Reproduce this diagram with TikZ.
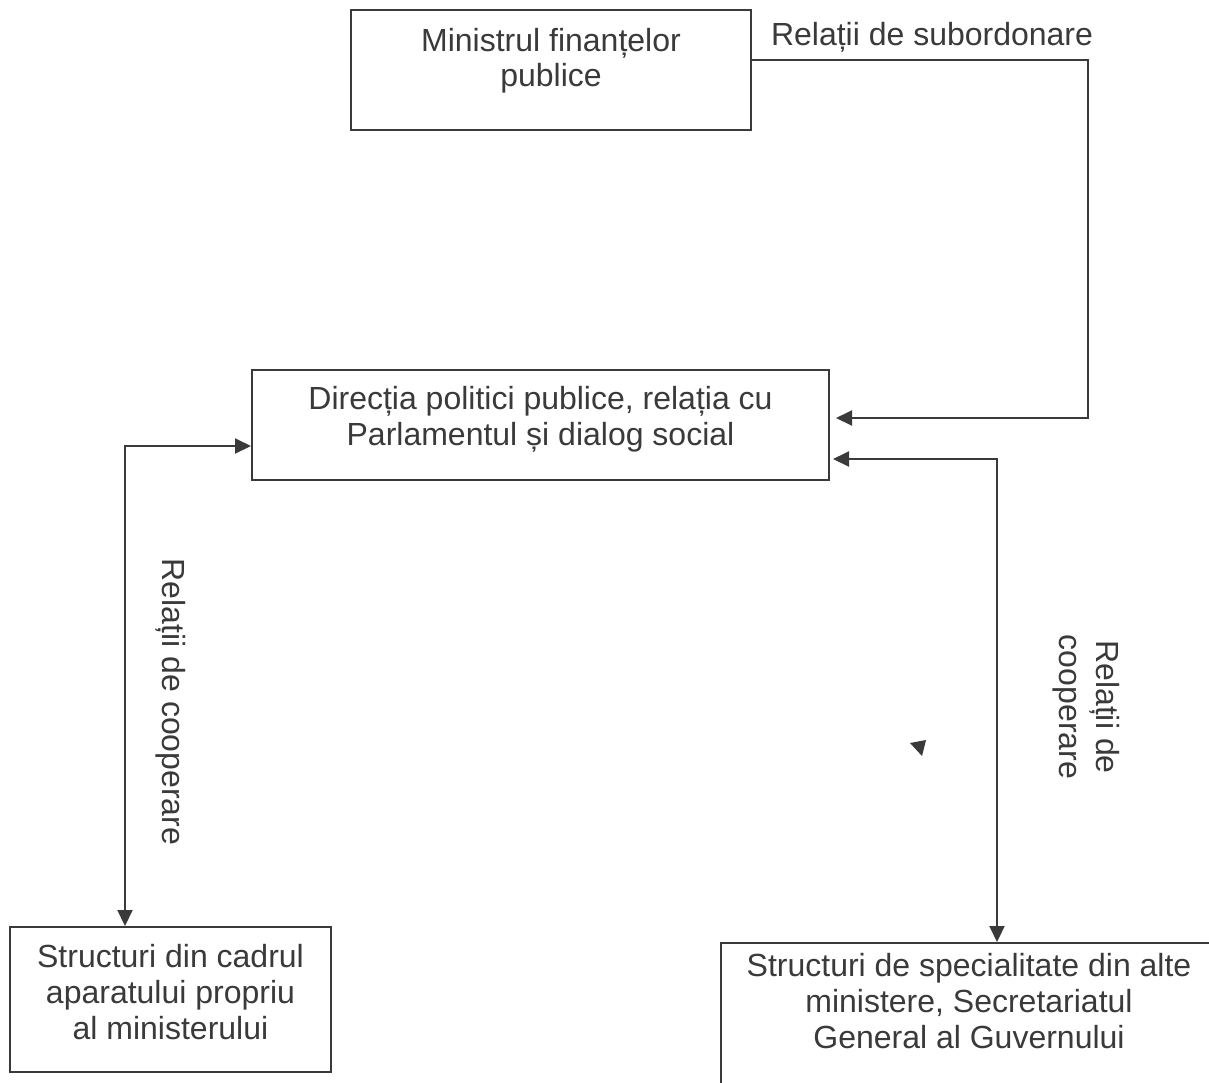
\documentclass[tikz,border=0pt]{standalone}
\usepackage{fontspec}
\setmainfont{Liberation Sans}
\usetikzlibrary{arrows.meta}
\definecolor{ink}{HTML}{3A3A3A}
\begin{document}
\begin{tikzpicture}[x=1pt,y=-1pt,
  box/.style={draw=ink, line width=2pt, inner sep=0pt},
  txt/.style={text=ink, align=center, inner sep=0pt, font=\fontsize{32}{36}\selectfont},
  conn/.style={draw=ink, line width=2pt},
  arr/.style={conn, -{Triangle[length=16pt,width=15pt]}},
  biarr/.style={conn, {Triangle[length=16pt,width=15pt]}-{Triangle[length=16pt,width=15pt]}},
]
\useasboundingbox (0,0) rectangle (1209,1082);
\fill[white] (0,0) rectangle (1209,1082);
\begin{scope}
\clip (0,0) rectangle (1209,1082);
% boxes
\node[box, minimum width=400pt, minimum height=120pt] (mf) at (551,70) {};
\node[box, minimum width=577pt, minimum height=110pt] (dp) at (540.5,425) {};
\node[box, minimum width=321pt, minimum height=145pt] (sl) at (170.5,999.5) {};
\node[box, minimum width=519pt, minimum height=167pt] (sg) at (980.5,1026.5) {};
% box texts
\node[txt, font=\fontsize{32}{35}\selectfont] (mft) at (551,61) {Ministrul finanțelor\\publice};
\node[txt] (dpt) at (540.5,419) {Direcția politici publice, relația cu\\Parlamentul și dialog social};
\node[txt] (slt) at (170.5,992) {Structuri din cadrul\\aparatului propriu\\al ministerului};
\node[txt] (sgt) at (969,1001.5) {Structuri de specialitate din alte\\ministere, Secretariatul\\General al Guvernului};
% labels
\node[txt] (subl) at (932,37) {Relații de subordonare};
\node[txt, rotate=-90] (coopl) at (171,702) {Relații de cooperare};
\node[txt, rotate=-90, font=\fontsize{32}{37}\selectfont] (coopr) at (1086.5,707) {Relații de\\cooperare};
% connectors
\draw[arr, shorten >=6pt] (mf.east |- 0,60) -| (1088,418) -- (dp.east |- 0,418);
\draw[biarr] (sl.north -| 125,0) |- (dp.west |- 0,446);
\draw[biarr, shorten <=3pt] (dp.east |- 0,459) -| (sg.north -| 997,0);
% stray arrowhead
\fill[ink] (910,743) -- (926,740) -- (922,756) -- cycle;
\end{scope}
\end{tikzpicture}
\end{document}
